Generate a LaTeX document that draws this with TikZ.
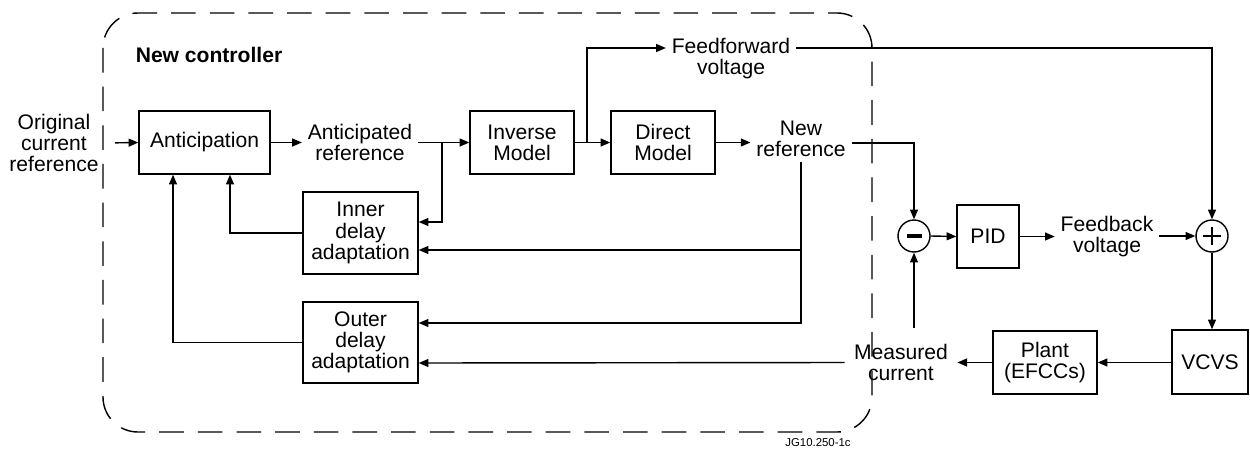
\documentclass[tikz,border=0pt]{standalone}
\usepackage{fontspec}
\setmainfont{Liberation Sans}
\usetikzlibrary{positioning}
\usetikzlibrary{arrows.meta}
\tikzset{>={Triangle[length=5.5pt,width=4.5pt]}}
\tikzset{
    block/.style={draw, line width=0.8pt, minimum height=1.26cm, align=center, inner sep=2pt},
    sig/.style={align=center, inner sep=3pt},
    sumpt/.style={draw, circle, line width=0.8pt, minimum size=0.64cm, inner sep=0pt},
    minuspt/.style={sumpt, path picture={
        \draw[line width=2pt] ([xshift=-0.15cm]path picture bounding box.center) -- ([xshift=0.15cm]path picture bounding box.center);}},
    pluspt/.style={sumpt, path picture={
        \draw[line width=1pt] ([xshift=-0.18cm]path picture bounding box.center) -- ([xshift=0.18cm]path picture bounding box.center);
        \draw[line width=1pt] ([yshift=-0.18cm]path picture bounding box.center) -- ([yshift=0.18cm]path picture bounding box.center);}},
}

\begin{document}
\begin{tikzpicture}[x=0.02cm, y=-0.02cm, line width=0.8pt, font=\fontsize{12}{12}\selectfont]
    \useasboundingbox (0,0) rectangle (1250,450);

    % controller frame
    \draw[dash pattern=on 14pt off 8pt, rounded corners=0.7cm] (103,13) rectangle (872,432);
    \node[font=\fontsize{12}{12}\selectfont\bfseries] (title) at (209,55) {New controller};

    % blocks
    \node[block, minimum width=2.62cm] (ant) at (204.5,142.5) {Anticipation};
    \node[block, minimum width=2.08cm] (inv) at (522,142.5) {Inverse\\Model};
    \node[block, minimum width=2.08cm] (dir) at (663,142.5) {Direct\\Model};
    \node[block, minimum width=2.3cm, minimum height=1.64cm] (inner) at (360.5,233) {Inner\\delay\\adaptation};
    \node[block, minimum width=2.3cm, minimum height=1.62cm] (outer) at (360.5,342.5) {Outer\\delay\\adaptation};
    \node[block, minimum width=1.24cm] (pid) at (988,236.5) {PID};
    \node[block, minimum width=2.08cm] (plant) at (1045,362.5) {Plant\\(EFCCs)};
    \node[block, minimum width=1.52cm, minimum height=1.28cm] (vcvs) at (1210,362) {VCVS};
    \node[minuspt] (minus) at (914,236) {};
    \node[pluspt] (plus) at (1212,236) {};

    % signals
    \node[sig] (origref) at (54,143) {Original\\current\\reference};
    \node[sig] (antref) at (360,142.5) {Anticipated\\reference};
    \node[sig] (ffv) at (731,59) {Feedforward\\voltage};
    \node[sig] (newref) at (801,138.5) {New\\reference};
    \node[sig] (fbv) at (1107,237) {Feedback\\voltage};
    \node[sig, inner sep=5pt] (meas) at (901,362.5) {Measured\\current};
    \node[font=\fontsize{6.5}{7}\selectfont] (jg) at (818,443) {JG10.250-1c};

    \coordinate (j1) at (442,142.5);
    \coordinate (j2) at (587,142.5);
    \coordinate (in1) at ([yshift=0.22cm]inner.east);
    \coordinate (in2) at ([yshift=-0.34cm]inner.east);
    \coordinate (out1) at ([yshift=0.39cm]outer.east);
    \coordinate (out2) at ([yshift=-0.41cm]outer.east);

    % forward path
    \draw[->, shorten <=6pt] (origref.east) -- (ant.west);
    \draw[->] (ant.east) -- (antref.west);
    \draw[->] (antref.east) -- (inv.west);
    \draw[->] (j1) |- (in1);
    \draw[->] (inv.east) -- (dir.west);
    \draw[->] (j2) |- (ffv.west |- 0,48);
    \draw[->] ([yshift=0.22cm]ffv.east) -| (plus.north);
    \draw[->] (dir.east) -- (dir.east -| newref.west);
    \draw[->] ([yshift=-0.09cm]newref.east) -| (minus.north);
    \draw[->] (newref.south) |- (out1);
    \draw[->] (newref.south |- in2) -- (in2);

    % feedback loop
    \draw[->] (minus.east) -- (pid.west);
    \draw[->] (pid.east) -- (pid.east -| fbv.west);
    \draw[->] (plus.west -| fbv.east) -- (plus.west);
    \draw[->] (plus.south) -- (plus.south |- vcvs.north);
    \draw[->] (vcvs.west |- plant.east) -- (plant.east);
    \draw[->] (plant.west) -- (meas.east);
    \draw[->] ([yshift=0.14cm]minus.south |- meas.north) -- (minus.south);
    \draw[->] (meas.west) -- (out2);

    % delay adaptation
    \draw[->] (inner.west) -| ([xshift=0.51cm]ant.south);
    \draw[->] (outer.west) -| ([xshift=-0.63cm]ant.south);

\end{tikzpicture}
\end{document}
